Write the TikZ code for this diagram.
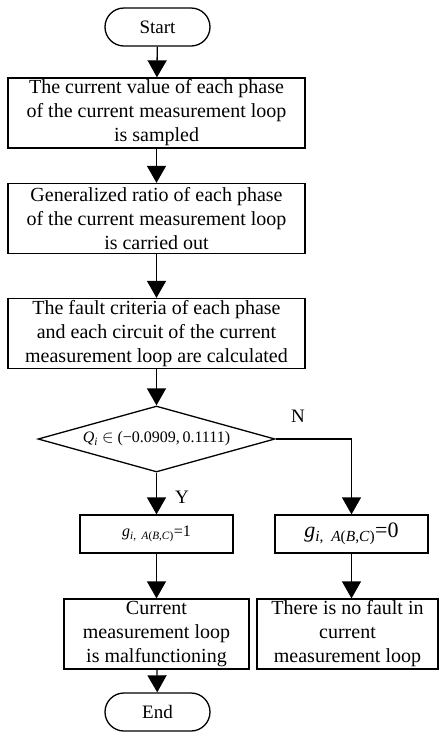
\documentclass[tikz,border=0pt]{standalone}
\usepackage{fontspec}
\setmainfont{Liberation Serif}
\usetikzlibrary{shapes.geometric,arrows.meta}

\begin{document}
\begin{tikzpicture}[x=1pt,y=-1pt,line width=1.3pt,
  term/.style={draw,rounded corners=19pt,minimum width=105pt,minimum height=38pt,inner sep=0pt,font=\fontsize{19}{23}\selectfont},
  proc/.style={draw,minimum width=297pt,minimum height=70pt,inner sep=0pt,align=center,font=\fontsize{20}{24}\selectfont},
  small/.style={draw,minimum width=153pt,minimum height=38pt,inner sep=0pt},
  arr/.style={-{Triangle[width=19pt,length=17pt]}}]

\useasboundingbox (0,0) rectangle (439,732);

% start and the three steps
\node[term] (start) at (157.5,27) {Start};
\node[proc] (sample) at (156.5,113) {The current value of each phase\\of the current measurement loop\\is sampled};
\node[proc] (ratio) at (156.5,218.5) {Generalized ratio of each phase\\of the current measurement loop\\is carried out};
\node[proc] (crit) at (156.5,333.5) {The fault criteria of each phase\\and each circuit of the current\\measurement loop are calculated};

% decision
\node[draw,diamond,minimum width=237pt,minimum height=66pt,inner sep=0pt] (dec) at (156.5,439) {};
\node[font=\fontsize{16}{19}\selectfont] (cond) at (dec) {\textit{Q}\textsubscript{\textit{i}} $\in$ (−0.0909,\,0.1111)};
\node[font=\fontsize{19}{23}\selectfont] (n) at (298,416) {N};
\node[font=\fontsize{19}{23}\selectfont] (y) at (182,497) {Y};

% the two branches
\node[small,font=\fontsize{16}{19}\selectfont] (gone) at (156.5,534) {\textit{g}\textsubscript{\textit{i},\ \ \textit{A}(\textit{B},\textit{C})}=1};
\node[small,font=\fontsize{22}{26}\selectfont] (gzero) at (351.5,534) {\textit{g}\textsubscript{\textit{i},\ \ \textit{A}(\textit{B},\textit{C})}=0};
\coordinate (turn) at (351.5,439);

\node[draw,minimum width=185pt,minimum height=70pt,inner sep=0pt,align=center,font=\fontsize{20}{24}\selectfont] (fault) at (156.5,634)
  {Current\\measurement loop\\is malfunctioning};
\node[draw,minimum width=181pt,minimum height=70pt,inner sep=0pt,align=center,font=\fontsize{20}{24}\selectfont] (nofault) at (347.5,634)
  {There is no fault in\\current\\measurement loop};

\node[term] (end) at (157.5,712) {End};

% arrows
\draw[arr] (start) -- (sample);
\draw[arr] (sample) -- (ratio);
\draw[arr] (ratio) -- (crit);
\draw[arr] (crit) -- (dec);
\draw[arr] (dec) -- (gone);
\draw[arr] (dec.east) -- (turn) -- (gzero);
\draw[arr] (gone) -- (fault);
\draw[arr] (gzero) -- (gzero |- nofault.north);
\draw[arr] (fault) -- (end);

\end{tikzpicture}
\end{document}
